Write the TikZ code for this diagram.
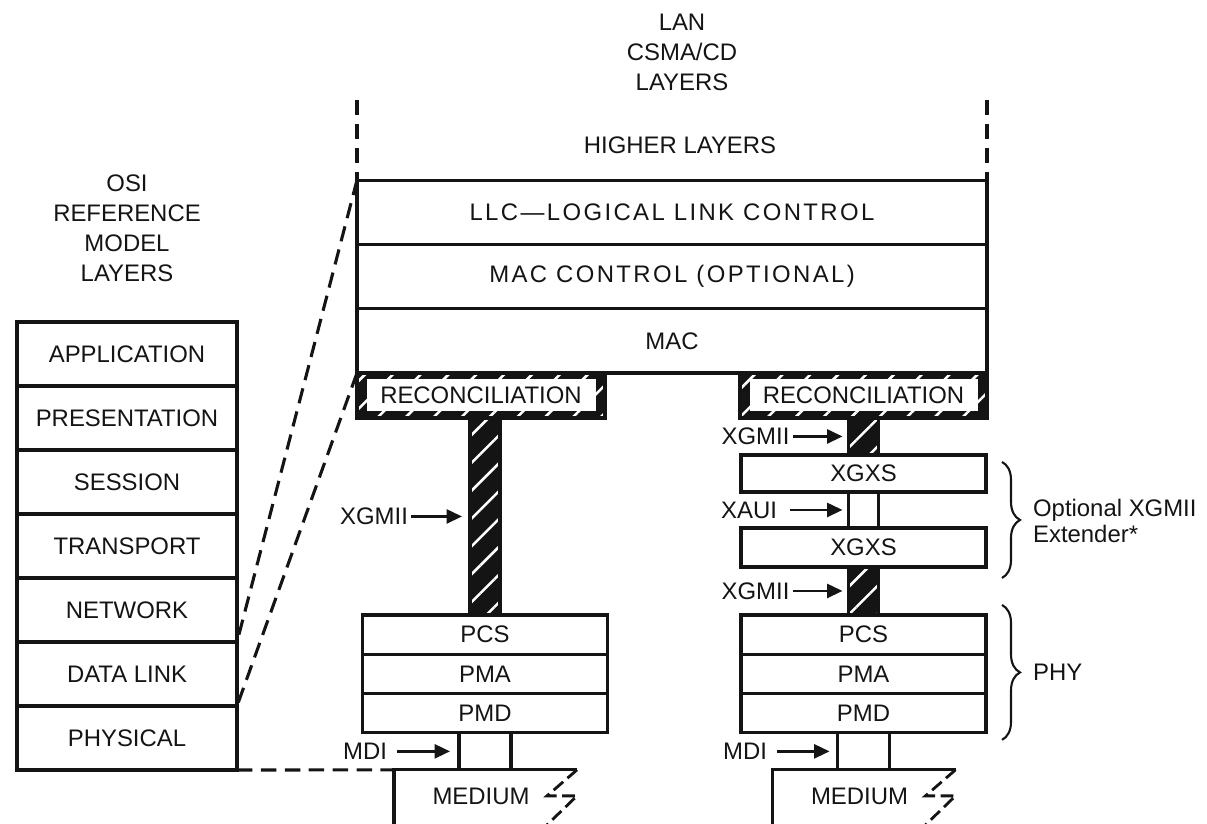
\documentclass[tikz,border=0pt]{standalone}
\usepackage{fontspec}
\setmainfont{Liberation Sans}
\newfontfamily\widefont[LetterSpace=10]{Liberation Sans}
\usepackage{tikz}
\usetikzlibrary{positioning, calc, arrows.meta, patterns.meta, decorations.pathreplacing}
\definecolor{ink}{RGB}{20,20,20}
\newlength{\px}
\setlength{\px}{0.025cm}
\newcommand{\layerfont}{\fontsize{17}{20}\selectfont}
\tikzset{
  osilayer/.style={rectangle, draw=ink, line width=2.2pt, inner sep=0pt, outer sep=0pt,
    minimum width=220\px, minimum height=64\px, font=\layerfont, text=ink},
  lanlayer/.style={osilayer, minimum width=630\px, minimum height=64.3\px},
  phylayer/.style={osilayer, minimum width=245\px, minimum height=39.3\px},
  xgxsbox/.style={osilayer, minimum width=245\px, minimum height=37\px},
  plainbar/.style={osilayer, minimum width=30\px, minimum height=36\px},
  mdilink/.style={osilayer, minimum width=52\px, minimum height=37\px},
  hatchbar/.style={rectangle, draw=ink, line width=2.2pt, inner sep=0pt, outer sep=0pt,
    preaction={fill=ink}, pattern={Lines[angle=45, distance=14pt, line width=1.8pt]},
    pattern color=white, minimum width=30\px},
  recontext/.style={rectangle, fill=white, inner sep=0pt, minimum width=229\px,
    minimum height=32\px, font=\layerfont, text=ink},
  title/.style={align=center, font=\fontsize{17}{21.3}\selectfont, text=ink},
  sig/.style={inner sep=2pt, font=\layerfont, text=ink},
  sigarrow/.style={-{Triangle[length=11pt, width=10pt]}, line width=1.8pt, draw=ink},
  boxline/.style={draw=ink, line width=2.2pt},
  dashline/.style={draw=ink, line width=2.2pt, dash pattern=on 11pt off 6pt},
  boltline/.style={draw=ink, line width=2pt, dash pattern=on 9pt off 4pt},
  brace/.style={decorate, decoration={brace, amplitude=18\px}, draw=ink, line width=1.5pt}
}

\begin{document}
\begin{tikzpicture}[x=0.025cm, y=-0.025cm]
  \useasboundingbox (0,0) rectangle (1207,823);

  % OSI reference model
  \node[title] (osititle) at (127,228) {OSI\\REFERENCE\\MODEL\\LAYERS};
  \node[osilayer] (app) at (127,354) {APPLICATION};
  \node[osilayer, below=0pt of app] (pres) {PRESENTATION};
  \node[osilayer, below=0pt of pres] (sess) {SESSION};
  \node[osilayer, below=0pt of sess] (trans) {TRANSPORT};
  \node[osilayer, below=0pt of trans] (net) {NETWORK};
  \node[osilayer, below=0pt of net] (dlink) {DATA LINK};
  \node[osilayer, below=0pt of dlink] (phys) {PHYSICAL};

  % LAN CSMA/CD layers
  \node[title] (lantitle) at (682,52) {LAN\\CSMA/CD\\LAYERS};
  \node[sig] (higher) at (680,145) {HIGHER LAYERS};
  \node[lanlayer] (llc) at (672,212.2) {\widefont LLC—LOGICAL LINK CONTROL};
  \node[lanlayer, below=0pt of llc] (macctl) {\widefont MAC CONTROL (OPTIONAL)};
  \node[lanlayer, below=0pt of macctl] (mac) {MAC};
  \coordinate (hlL) at (357,100);
  \coordinate (hlR) at (987,100);
  \draw[dashline] (hlL) -- (llc.north west);
  \draw[dashline] (hlR) -- (llc.north east);

  % Left PHY (direct XGMII)
  \node[hatchbar, minimum width=248\px, minimum height=45\px,
    below right=0pt and 0pt of mac.south west] (reconL) {};
  \node[recontext] (reconLtxt) at (reconL) {RECONCILIATION};
  \node[hatchbar, minimum height=197\px, below=0pt of reconL, xshift=4\px] (barL) {};
  \node[phylayer, below=0pt of barL] (pcsL) {PCS};
  \node[phylayer, below=0pt of pcsL] (pmaL) {PMA};
  \node[phylayer, below=0pt of pmaL] (pmdL) {PMD};
  \node[mdilink, below=0pt of pmdL] (mdiL) {};
  \coordinate (medL) at ($(mdiL.south)+(-91,0)$);
  \draw[boxline] ($(medL)+(0,55)$) -- (medL) -- ($(mdiL.south)+(92,0)$);
  \draw[boltline] ($(mdiL.south)+(92,0)$) -- ++(-30,26) -- ++(30,0) -- ++(-30,29);
  \node[sig] (medtxtL) at ($(mdiL.south)+(-4,27)$) {MEDIUM};

  \node[sig, left=59\px of barL] (xgmiiL) {XGMII};
  \draw[sigarrow, shorten >=8\px] (xgmiiL) -- (barL);
  \node[sig, left=69\px of mdiL] (mdilblL) {MDI};
  \draw[sigarrow, shorten <=7\px, shorten >=9\px] (mdilblL) -- (mdiL);

  % Right PHY (with XGMII extender)
  \node[hatchbar, minimum width=247\px, minimum height=45\px,
    below left=0pt and 0pt of mac.south east] (reconR) {};
  \node[recontext, minimum width=228\px] (reconRtxt) at (reconR) {RECONCILIATION};
  \node[hatchbar, minimum height=37\px, below=0pt of reconR] (barRa) {};
  \node[xgxsbox, below=0pt of barRa] (xgxsA) {XGXS};
  \node[plainbar, below=0pt of xgxsA] (xaui) {};
  \node[xgxsbox, minimum height=39\px, below=0pt of xaui] (xgxsB) {XGXS};
  \node[hatchbar, minimum height=48\px, below=0pt of xgxsB] (barRb) {};
  \node[phylayer, below=0pt of barRb] (pcsR) {PCS};
  \node[phylayer, below=0pt of pcsR] (pmaR) {PMA};
  \node[phylayer, below=0pt of pmaR] (pmdR) {PMD};
  \node[mdilink, below=0pt of pmdR] (mdiR) {};
  \coordinate (medR) at ($(mdiR.south)+(-91,0)$);
  \draw[boxline] ($(medR)+(0,55)$) -- (medR) -- ($(mdiR.south)+(92,0)$);
  \draw[boltline] ($(mdiR.south)+(92,0)$) -- ++(-30,26) -- ++(30,0) -- ++(-30,29);
  \node[sig] (medtxtR) at ($(mdiR.south)+(-4,27)$) {MEDIUM};

  \node[sig, left=56\px of barRa] (xgmiiRa) {XGMII};
  \draw[sigarrow, shorten >=6\px] (xgmiiRa) -- (barRa);
  \node[sig, left=68.5\px of xaui] (xauilbl) {XAUI};
  \draw[sigarrow, shorten <=10\px, shorten >=6\px] (xauilbl) -- (xaui);
  \node[sig, left=56\px of barRb] (xgmiiRb) {XGMII};
  \draw[sigarrow, shorten >=6\px] (xgmiiRb) -- (barRb);
  \node[sig, left=67.5\px of mdiR] (mdilblR) {MDI};
  \draw[sigarrow, shorten <=7\px, shorten >=8\px] (mdilblR) -- (mdiR);

  % Braces
  \draw[brace] ($(xgxsA.north east)+(16,7)$) -- ($(xgxsB.south east)+(16,11)$);
  \node[sig, anchor=west, align=left, font=\fontsize{17}{18}\selectfont] (extlbl) at (1030,521) {Optional XGMII\\Extender*};
  \draw[brace] ($(pcsR.north east)+(16,-10)$) -- ($(pmdR.south east)+(16,7)$);
  \node[sig, anchor=west] (phylbl) at (1030,672) {PHY};

  % Mapping between the two models
  \draw[dashline] (llc.north west) -- (net.south east);
  \draw[dashline] (mac.south west) -- (dlink.south east);
  \draw[dashline] (phys.south east) -- (medL);
\end{tikzpicture}
\end{document}
